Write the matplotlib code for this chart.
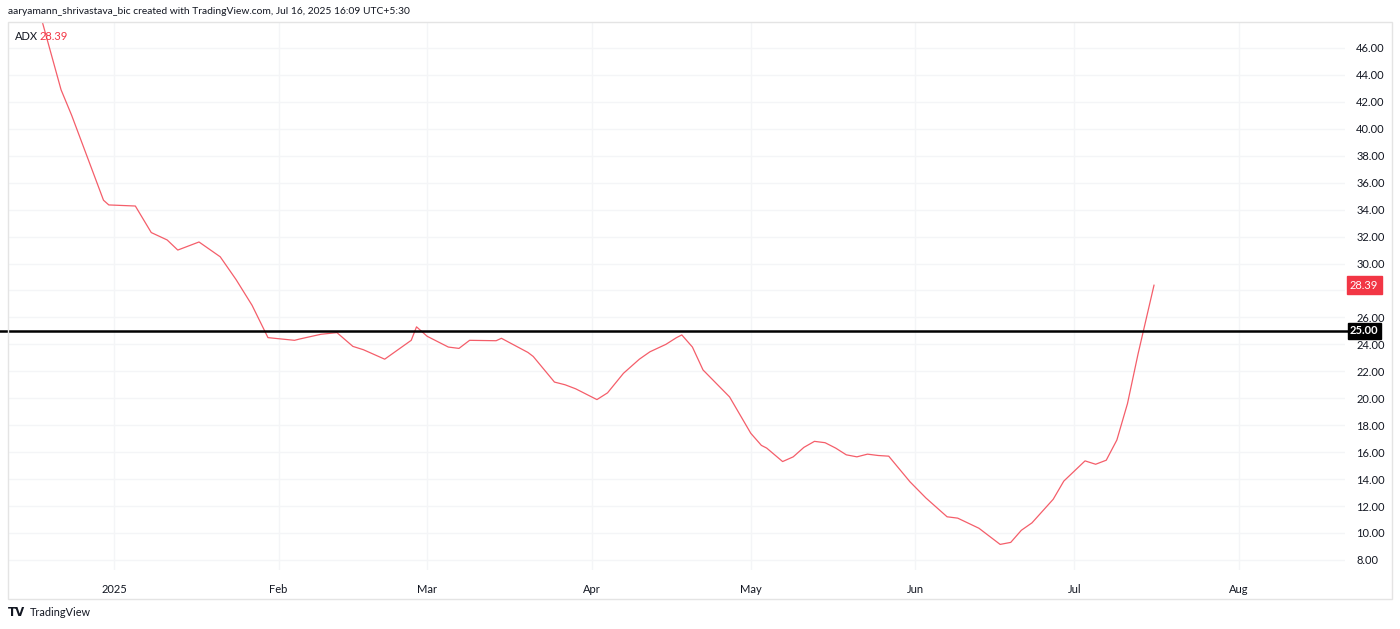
import matplotlib
matplotlib.use("Agg")
import matplotlib.pyplot as plt
import matplotlib.transforms as mtransforms
from matplotlib.patches import Rectangle
import pandas as pd

plt.rcParams['font.family'] = ['Lato', 'DejaVu Sans']

# ADX readings taken off the chart
dates = ["2024-12-18", "2024-12-22", "2024-12-24", "2024-12-30", "2024-12-31",
         "2025-01-05", "2025-01-08", "2025-01-11", "2025-01-13", "2025-01-17",
         "2025-01-21", "2025-01-24", "2025-01-27", "2025-01-30", "2025-02-04",
         "2025-02-05", "2025-02-09", "2025-02-12", "2025-02-15", "2025-02-17",
         "2025-02-21", "2025-02-26", "2025-02-27", "2025-03-01", "2025-03-05",
         "2025-03-07", "2025-03-09", "2025-03-14", "2025-03-15", "2025-03-20",
         "2025-03-21", "2025-03-25", "2025-03-27", "2025-03-29", "2025-04-02",
         "2025-04-04", "2025-04-07", "2025-04-10", "2025-04-12", "2025-04-15",
         "2025-04-17", "2025-04-18", "2025-04-20", "2025-04-22", "2025-04-27",
         "2025-05-01", "2025-05-03", "2025-05-04", "2025-05-07", "2025-05-09",
         "2025-05-11", "2025-05-13", "2025-05-15", "2025-05-17", "2025-05-19",
         "2025-05-21", "2025-05-23", "2025-05-25", "2025-05-27", "2025-05-31",
         "2025-06-03", "2025-06-07", "2025-06-09", "2025-06-13", "2025-06-17",
         "2025-06-19", "2025-06-21", "2025-06-23", "2025-06-27", "2025-06-29",
         "2025-07-03", "2025-07-05", "2025-07-07", "2025-07-09", "2025-07-11",
         "2025-07-13", "2025-07-16"]
adx = [48.6, 42.9, 41.0, 34.7, 34.35,
       34.27, 32.3, 31.75, 31.0, 31.6,
       30.5, 28.8, 26.9, 24.5, 24.3,
       24.4, 24.75, 24.87, 23.85, 23.6,
       22.9, 24.3, 25.3, 24.6, 23.8,
       23.7, 24.3, 24.27, 24.45, 23.4,
       23.1, 21.2, 21.0, 20.7, 19.9,
       20.4, 21.85, 22.9, 23.45, 24.0,
       24.5, 24.7, 23.8, 22.1, 20.1,
       17.4, 16.5, 16.3, 15.3, 15.65,
       16.35, 16.8, 16.7, 16.3, 15.8,
       15.65, 15.85, 15.75, 15.7, 13.8,
       12.6, 11.2, 11.1, 10.35, 9.15,
       9.3, 10.2, 10.75, 12.5, 13.85,
       15.35, 15.1, 15.4, 16.9, 19.6,
       23.3, 28.39]
level = 25.0
last_val = 28.39

month_ticks = ["2025-01-01", "2025-02-01", "2025-03-01", "2025-04-01",
               "2025-05-01", "2025-06-01", "2025-07-01", "2025-08-01"]
month_labels = ["2025", "Feb", "Mar", "Apr", "May", "Jun", "Jul", "Aug"]
y_ticks = list(range(8, 47, 2))

df = pd.DataFrame({"date": pd.to_datetime(dates), "adx": adx})

W, H = 1400, 629
fig = plt.figure(figsize=(W / 100, H / 100), dpi=100)
ax = fig.add_axes([8 / W, 1 - 570 / H, 1337 / W, 548 / H])

txt = '#131722'
grid_c = '#f4f5f7'
red = '#F23645'

ax.plot(df["date"], df["adx"], color=red, lw=0.9, alpha=0.8, zorder=3)
ax.axhline(level, xmin=-8 / 1337, xmax=1 + 2 / 1337, color='black', lw=1.8,
           clip_on=False, zorder=4)

ax.set_xlim(pd.Timestamp("2024-12-12"), pd.Timestamp("2025-08-21"))
ax.set_ylim(7.25, 47.93)

ax.set_xticks(pd.to_datetime(month_ticks))
ax.set_xticklabels(month_labels)
ax.set_yticks(y_ticks)
# the 28.00 label sits under the last-value tag, so it is left blank
ax.set_yticklabels(["" if v == 28 else "%.2f" % v for v in y_ticks])
ax.yaxis.tick_right()
ax.tick_params(axis='x', length=0, pad=10, labelsize=8, labelcolor=txt)
ax.tick_params(axis='y', length=0, pad=8, labelsize=8, labelcolor=txt)
for lab in ax.get_yticklabels():
    lab.set_horizontalalignment('left')

ax.grid(True, color=grid_c, lw=1)
ax.set_axisbelow(True)
for s in ax.spines.values():
    s.set_visible(False)

# price scale tags
trans = mtransforms.blended_transform_factory(ax.transAxes, ax.transData)
ax.text(1.0 + 5 / 1337, level, "%.2f" % level, transform=trans, va='center', ha='left',
        fontsize=8, color='white', fontweight='bold', zorder=6,
        bbox=dict(boxstyle='square,pad=0.22', fc='black', ec='black'))
ax.text(1.0 + 5 / 1337, last_val, "%.2f" % last_val, transform=trans, va='center',
        ha='left', fontsize=8, color='white', zorder=6,
        bbox=dict(boxstyle='square,pad=0.3', fc=red, ec=red))

# outer frame
fig.patches.append(Rectangle((8 / W, 1 - 599 / H), 1384 / W, 577 / H,
                             transform=fig.transFigure, fill=False,
                             ec='#e4e4e4', lw=1))

fig.text(8 / W, 1 - 12 / H,
         "aaryamann_shrivastava_bic created with TradingView.com, Jul 16, 2025 16:09 UTC+5:30",
         fontsize=7.4, color=txt, va='center', ha='left')
fig.text(15 / W, 1 - 36 / H, "ADX", fontsize=8, color=txt, va='center', ha='left')
fig.text(40 / W, 1 - 36 / H, "28.39", fontsize=8, color=red, va='center', ha='left')

fig.text(8 / W, 1 - 613 / H, "TV", fontsize=8.5, color=txt, va='center', ha='left',
         fontweight='bold', family='DejaVu Sans')
fig.text(30 / W, 1 - 613 / H, "TradingView", fontsize=7.8, color=txt, va='center', ha='left')

fig.savefig("out.png", dpi=100, facecolor='white')
